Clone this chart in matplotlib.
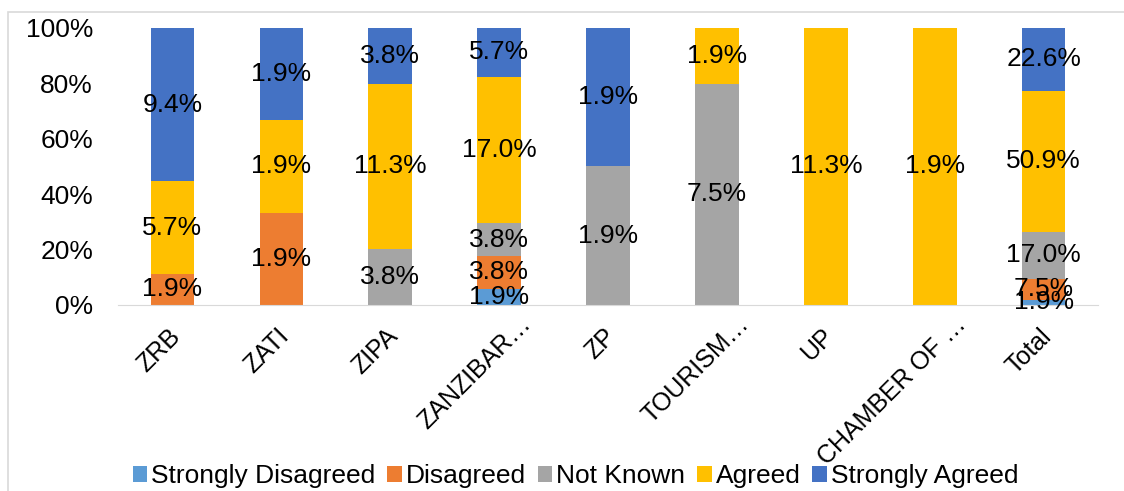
import numpy as np
import matplotlib
matplotlib.use('Agg')
import matplotlib.pyplot as plt
import matplotlib.transforms as mtransforms
from matplotlib.patches import Rectangle

plt.rcParams['font.family'] = ['Liberation Sans', 'DejaVu Sans']

# ── Data: share of all respondents (%) ────────────────────────────────────────
categories = ['ZRB', 'ZATI', 'ZIPA', 'ZANZIBAR…', 'ZP', 'TOURISM…', 'UP',
              'CHAMBER OF …', 'Total']
strongly_disagreed = [0, 0, 0, 1.9, 0, 0, 0, 0, 1.9]
disagreed          = [1.9, 1.9, 0, 3.8, 0, 0, 0, 0, 7.5]
not_known          = [0, 0, 3.8, 3.8, 1.9, 7.5, 0, 0, 17.0]
agreed             = [5.7, 1.9, 11.3, 17.0, 0, 1.9, 11.3, 1.9, 50.9]
strongly_agreed    = [9.4, 1.9, 3.8, 5.7, 1.9, 0, 0, 0, 22.6]

series = [
    ('Strongly Disagreed', strongly_disagreed, '#5B9BD5'),
    ('Disagreed',          disagreed,          '#ED7D31'),
    ('Not Known',          not_known,          '#A5A5A5'),
    ('Agreed',             agreed,             '#FFC000'),
    ('Strongly Agreed',    strongly_agreed,    '#4472C4'),
]

vals = np.array([s[1] for s in series], dtype=float)
col_tot = vals.sum(axis=0)
shares = vals / col_tot  # 100% stacked heights

fig = plt.figure(figsize=(11.24, 4.91), dpi=100)
ax = fig.add_axes([0.105, 0.379, 0.872, 0.564])

x = np.arange(len(categories))
bottom = np.zeros(len(categories))
FS = 19
for (name, v, color), h, raw in zip(series, shares, vals):
    ax.bar(x, h, 0.4, bottom=bottom, color=color, label=name, edgecolor='none')
    for xi, hi, bi, r in zip(x, h, bottom, raw):
        if r > 0:
            ax.text(xi, bi + hi / 2, f'{r:.1f}%', ha='center', va='center',
                    fontsize=FS, color='black')
    bottom += h

ax.set_xlim(-0.5, len(categories) - 0.5)
ax.set_ylim(0, 1)
ax.set_yticks(np.arange(0, 1.01, 0.2))
ax.set_yticklabels([f'{int(t*100)}%' for t in np.arange(0, 1.01, 0.2)], fontsize=FS)
ax.set_xticks(x)
ax.set_xticklabels(categories, rotation=45, ha='right', va='center',
                   rotation_mode='anchor', fontsize=18)
ax.tick_params(axis='both', length=0)
ax.tick_params(axis='x', pad=20)
ax.tick_params(axis='y', pad=18)

# nudge rotated category labels to the right of their ticks;
# truncated names sit further up along the slant
for lbl in ax.get_xticklabels():
    dx, dy = 4, 0
    if lbl.get_text().endswith('…'):
        dx, dy = 28, 12
    shift = mtransforms.ScaledTranslation(dx / 100, dy / 100, fig.dpi_scale_trans)
    lbl.set_transform(lbl.get_transform() + shift)

for side in ['top', 'right', 'left']:
    ax.spines[side].set_visible(False)
ax.spines['bottom'].set_color('#D9D9D9')

leg = fig.legend(loc='center', bbox_to_anchor=(0.512, 0.03), ncol=5, frameon=False,
                 fontsize=FS, handlelength=0.55, handleheight=0.55,
                 handletextpad=0.15, columnspacing=0.45, borderaxespad=0)

# light chart-area frame
fig.patches.append(Rectangle((0.007, -0.1), 1.2, 1.0 - 12 / 491 + 0.1,
                             transform=fig.transFigure, fill=False,
                             edgecolor='#D9D9D9', linewidth=1.2))

plt.savefig('out.png', dpi=100)
plt.close()
